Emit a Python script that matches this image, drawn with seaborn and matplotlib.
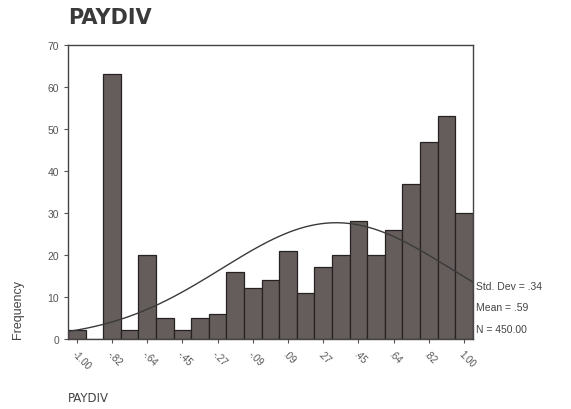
import numpy as np
import pandas as pd
import matplotlib
matplotlib.use("Agg")
import matplotlib.pyplot as plt
import seaborn as sns

# Histogram of PAYDIV: 23 bins centred from -1.00 to 1.00
bin_centers = [-1 + k / 11 for k in range(23)]
counts = [2, 0, 63, 2, 20, 5, 2, 5, 6, 16, 12, 14, 21, 11, 17, 20, 28, 20, 26, 37, 47, 53, 30]
tick_labels = ["-1.00", "-.82", "-.64", "-.45", "-.27", "-.09",
               ".09", ".27", ".45", ".64", ".82", "1.00"]
stats_text = ["Std. Dev = .34", "Mean = .59", "N = 450.00"]
n_cases = 450
curve_mean = 0.34
curve_sd = 0.59

bin_width = 2 / 22
edges = [c - bin_width / 2 for c in bin_centers] + [bin_centers[-1] + bin_width / 2]

df = pd.DataFrame({"PAYDIV": bin_centers, "count": counts})

sns.set_style("white")
plt.rcParams["font.family"] = ["Liberation Sans", "DejaVu Sans"]

fig = plt.figure(figsize=(5.71, 4.10), dpi=100)
ax = fig.add_axes([0.119, 0.171, 0.709, 0.717])

sns.histplot(data=df, x="PAYDIV", weights="count", bins=edges, ax=ax,
             color="#655d5c", edgecolor="#262222", linewidth=0.9, alpha=1.0)

# Normal curve scaled to the histogram
xs = np.linspace(edges[0], edges[-1], 300)
ys = n_cases * bin_width * np.exp(-0.5 * ((xs - curve_mean) / curve_sd) ** 2) / (curve_sd * np.sqrt(2 * np.pi))
sns.lineplot(x=xs, y=ys, ax=ax, color="#3a3a3a", linewidth=1.0)

ax.set_xlim(edges[0], edges[-1])
ax.set_ylim(0, 70)
ax.set_yticks(range(0, 71, 10))
ax.set_yticklabels([str(v) for v in range(0, 71, 10)], fontsize=7.5, color="#555555")
ax.set_xticks(bin_centers[::2])
ax.set_xticklabels(tick_labels, rotation=-45, ha="left", rotation_mode="anchor",
                   fontsize=7, color="#555555")
ax.tick_params(axis="both", direction="out", length=3, width=0.8, color="#555555",
               bottom=True, left=True)

for side in ["left", "right", "top", "bottom"]:
    ax.spines[side].set_visible(True)
    ax.spines[side].set_color("#444444")
    ax.spines[side].set_linewidth(1.0)

ax.set_xlabel("")
ax.set_ylabel("")

fig.text(0.119, 0.955, "PAYDIV", fontsize=15, fontweight="semibold", color="#3a3a3a",
         family=["DejaVu Sans"], ha="left", va="center")
fig.text(0.119, 0.028, "PAYDIV", fontsize=8.5, color="#444444", family=["DejaVu Sans"],
         ha="left", va="center")
fig.text(0.032, 0.245, "Frequency", fontsize=9, color="#444444", rotation=90,
         ha="center", va="center")

for i, s in enumerate(stats_text):
    fig.text(0.833, 0.300 - i * 0.052, s, fontsize=7.5, color="#444444",
             ha="left", va="center")

fig.savefig("out.png", dpi=100, facecolor="white")
